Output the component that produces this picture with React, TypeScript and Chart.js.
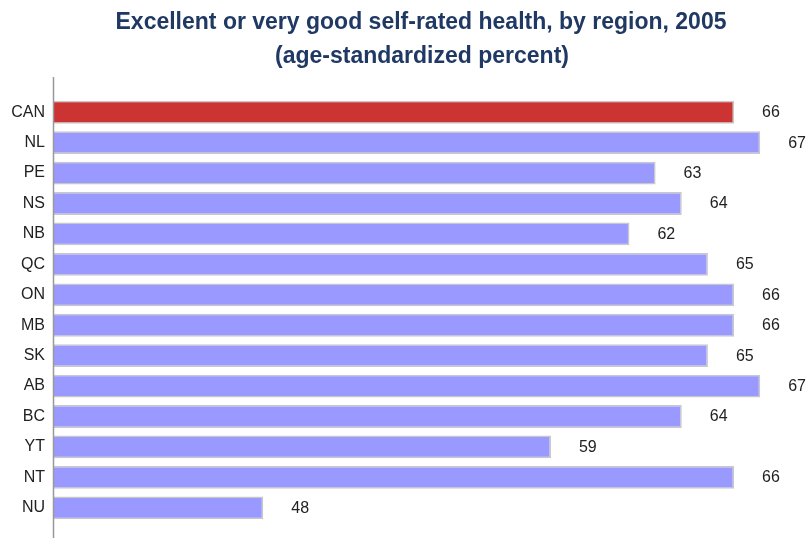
import React, { useEffect, useRef } from "react";
import { Chart, registerables } from "chart.js";

Chart.register(...registerables);

const regions = ["CAN", "NL", "PE", "NS", "NB", "QC", "ON", "MB", "SK", "AB", "BC", "YT", "NT", "NU"];
const values = [66, 67, 63, 64, 62, 65, 66, 66, 65, 67, 64, 59, 66, 48];
const barColors = ["#CC3333", "#9999FF", "#9999FF", "#9999FF", "#9999FF", "#9999FF", "#9999FF", "#9999FF", "#9999FF", "#9999FF", "#9999FF", "#9999FF", "#9999FF", "#9999FF"];
const titleLines = ["Excellent or very good self-rated health, by region, 2005", "(age-standardized percent)"];

const decorPlugin = {
  id: "decor",
  afterDraw(chart: any) {
    const ctx = chart.ctx;
    const area = chart.chartArea;
    ctx.save();
    // axis line
    ctx.strokeStyle = "#999999";
    ctx.lineWidth = 1.5;
    ctx.beginPath();
    ctx.moveTo(area.left - 0.5, 77);
    ctx.lineTo(area.left - 0.5, 538);
    ctx.stroke();
    // title
    ctx.fillStyle = "#1F3864";
    ctx.font = "bold 23px 'Liberation Sans', Arial, sans-serif";
    ctx.textAlign = "center";
    ctx.textBaseline = "alphabetic";
    ctx.fillText(titleLines[0], 421, 29);
    ctx.fillText(titleLines[1], 422, 63);
    // value labels
    const meta = chart.getDatasetMeta(0);
    ctx.fillStyle = "#222222";
    ctx.font = "16px 'Liberation Sans', Arial, sans-serif";
    ctx.textAlign = "left";
    ctx.textBaseline = "middle";
    meta.data.forEach((bar: any, i: number) => {
      ctx.fillText(String(values[i]), bar.x + 28, bar.y + 0.5);
    });
    ctx.restore();
  },
};

export default function App() {
  const ref = useRef<HTMLCanvasElement>(null);
  useEffect(() => {
    if (!ref.current) return;
    const chart = new Chart(ref.current, {
      type: "bar",
      data: {
        labels: regions,
        datasets: [
          {
            data: values,
            backgroundColor: barColors,
            borderColor: "#C8C8C8",
            borderWidth: 1.5,
            borderSkipped: false,
            categoryPercentage: 1,
            barPercentage: 0.75,
          },
        ],
      },
      options: {
        indexAxis: "y",
        animation: false,
        responsive: false,
        maintainAspectRatio: false,
        layout: { padding: { top: 97, bottom: 15, left: 0, right: 3 } },
        plugins: { legend: { display: false }, title: { display: false }, tooltip: { enabled: false } },
        scales: {
          x: {
            display: false,
            min: 40,
            max: 68.75,
          },
          y: {
            grid: { display: false, drawTicks: false },
            border: { display: false },
            ticks: {
              color: "#222222",
              padding: 9,
              font: { family: "'Liberation Sans', Arial, sans-serif", size: 16 },
            },
            afterFit(scale: any) {
              scale.width = 54;
              scale.paddingTop = 0;
              scale.paddingBottom = 0;
            },
          },
        },
      },
      plugins: [decorPlugin],
    });
    return () => chart.destroy();
  }, []);
  return (
    <div style={{ position: "fixed", left: 0, top: 0, width: 809, height: 538, background: "#fff" }}>
      <canvas ref={ref} width={809} height={538} style={{ width: 809, height: 538 }} />
    </div>
  );
}
